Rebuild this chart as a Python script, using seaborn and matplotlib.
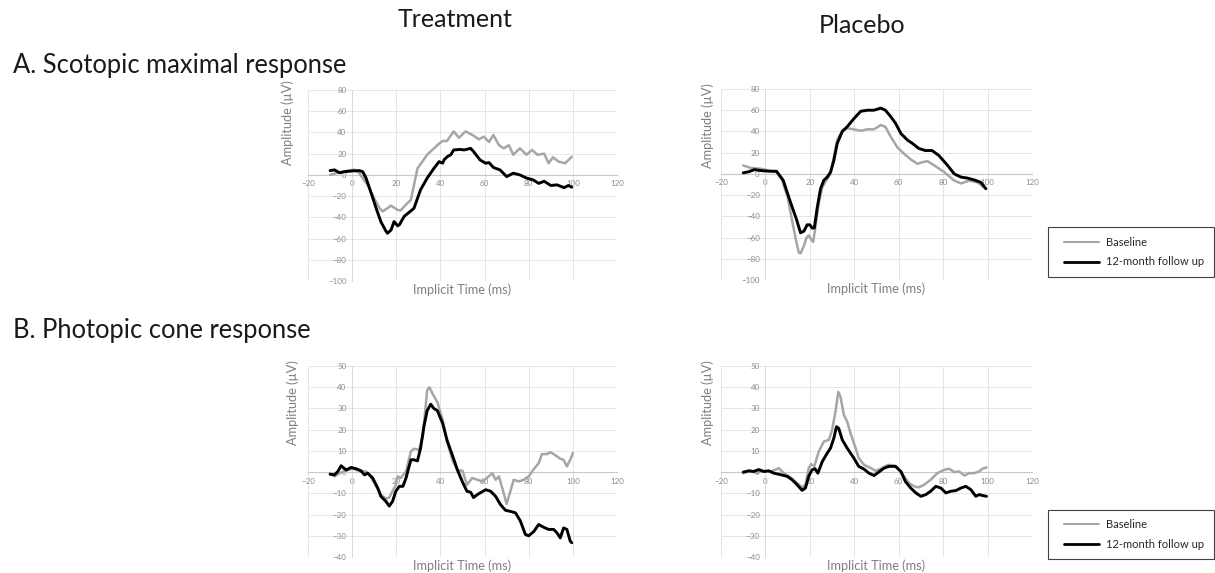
import pandas as pd
import numpy as np
import seaborn as sns
import matplotlib.pyplot as plt
from matplotlib.patches import Rectangle
from matplotlib.lines import Line2D

# Scotopic maximal response - Treatment
sco_trt_base_x = [-10, -6.5, -2, 1, 3.3, 4.8, 7, 10, 12.3, 13.8, 17.6, 20.6, 22, 24.4, 26.6, 27.4, 29.6,
                  34, 38.6, 41, 43, 46, 48.4, 51.4, 55, 57.4, 59.7, 62, 64, 66.5, 68.7, 71, 73, 76, 79,
                  81.5, 84, 87, 89, 91, 93.5, 96.5, 99.5]
sco_trt_base_y = [0, 2, 4, 5, 1.5, -3, -9.4, -22, -31, -34.5, -29, -33, -33.5, -28, -23.5, -15.7, 6,
                  19, 28, 32, 32, 41, 35, 41, 37, 33.5, 36, 31, 37.6, 28, 25, 28, 19, 25, 19,
                  23.5, 19, 20, 11, 16.6, 12.5, 11, 17]
sco_trt_fu_x = [-10, -8, -5.7, -3.5, 0.3, 3.3, 4.8, 6.3, 8.6, 10.8, 13, 15.3, 16, 17.6, 19, 20.6, 21.4,
                23.6, 26.6, 28, 31, 34, 37, 39.4, 41, 41.6, 43, 44.7, 46, 49, 50.7, 53.7, 55, 58,
                60.5, 62, 64, 67, 70, 73, 76, 79, 82, 84.5, 87, 90, 92.8, 96, 98, 99.5]
sco_trt_fu_y = [4, 4.7, 2, 3, 3.8, 4, 3, -3, -17, -31, -44, -53, -55, -52, -44, -48, -47,
                -39, -34, -31.5, -14, -3, 6, 12.5, 11, 14, 17, 19, 23.5, 24, 23.5, 25, 22, 14,
                11, 11.6, 7, 4.7, -1.6, 1.6, 0, -3, -4.7, -8, -6, -10, -9.4, -12, -10, -11.6]

# Scotopic maximal response - Placebo
sco_pla_base_x = [-10, -6.8, -2, 2, 5, 7.5, 10, 12, 13.5, 15, 15.8, 17.3, 18.5, 19.5, 21, 21.5, 22.5,
                  24, 25.6, 27.8, 29.3, 30.8, 32.3, 34.6, 36.8, 39.8, 42.9, 45.9, 48.9, 51.9, 54,
                  56.4, 59.4, 62.4, 65.4, 68.4, 70.7, 73, 76, 80.5, 85, 88, 91.7, 95.5, 98.5, 99.5]
sco_pla_base_y = [8, 5.7, 4.8, 3, 1.6, -6, -22, -44, -60, -74, -75, -68, -60, -58, -63, -64, -50,
                  -28, -12.6, -4.7, 0, 16, 31.7, 41, 43, 42, 40.6, 42, 42, 46, 44.4,
                  35, 25, 19, 13.7, 9.5, 11, 12, 8, 1.6, -6.3, -9, -6.3, -8, -12.7, -14]
sco_pla_fu_x = [-10, -7.5, -5, -1.5, 2, 5, 8, 11, 14, 15.8, 17.3, 18.8, 20, 21, 22, 23.3, 24.8, 26.3,
                27.8, 29.3, 30.8, 32.3, 34.6, 36.8, 39.8, 42.9, 45.9, 48.9, 51.9, 54, 56.4, 58.6,
                61, 64, 66, 69, 72, 75, 78, 82, 85, 88, 91, 94, 97, 99.2]
sco_pla_fu_y = [1, 2, 4, 3, 2.5, 2.5, -6, -25, -43, -55.5, -54, -48, -48, -51, -51, -32, -14, -6,
                -3, 1.6, 12.7, 28.6, 40, 44.4, 52, 59, 60, 60, 62, 60, 54, 47.6,
                38, 31.7, 29, 24, 22, 22, 17.5, 8, 0, -3, -4, -5.7, -8, -14]

# Photopic cone response - Treatment
pho_trt_base_x = [-10, -8, -5.7, -2, 0.3, 3.3, 6.3, 7.8, 10, 13, 15.3, 16.8, 18.3, 19.8, 20.6, 22,
                  24.4, 26.6, 28, 30.4, 32, 34, 35, 36.4, 38.6, 41, 43, 45.4, 47.7, 50, 52, 54.4,
                  56.7, 59, 61, 63.5, 65, 66.5, 68.4, 70, 71.7, 73.2, 75.5, 77.7, 80, 82, 84.5, 86,
                  88.3, 89.8, 92, 94.3, 95.8, 97.3, 98.8, 100]
pho_trt_base_y = [-0.5, -2, -0.5, 1, 1.6, 0.6, 0.3, -1, -5, -10.6, -12.5, -12, -9, -6, -2, -2.8,
                  0.3, 9.7, 11, 10.5, 16.7, 38.6, 40, 37, 33, 24.6, 14.4, 5.8, 1, 0.6, -6, -2.8,
                  -3.6, -4.4, -2.8, -0.5, -3.6, -2, -9, -15, -9, -3.6, -4.4, -3.6, -2, 1, 4.2, 8.5,
                  8.5, 9.4, 8, 6.3, 5.8, 2.7, 5.8, 9]
pho_trt_fu_x = [-10, -8, -6.5, -5, -2.7, -0.5, 1.8, 4, 5.6, 7, 9.3, 11.6, 13, 15.3, 16.8, 18.3, 19.8,
                21.4, 23, 24.4, 26.6, 28, 29.6, 31, 32.6, 34, 35.6, 37, 38.6, 41, 43, 45.4, 47.7,
                50, 52, 53.7, 55, 56.7, 58, 60.5, 62.7, 65, 67.2, 69.5, 71.7, 74, 76.2, 78.5, 80,
                82.3, 84.5, 86.8, 89, 91.3, 92.8, 94.3, 95.8, 97.3, 98.8, 99.5]
pho_trt_fu_y = [-1, -1.3, 0.3, 3, 1, 2.2, 1.6, 0.6, -1.3, -0.5, -2.8, -7.5, -11.4, -13.8, -16, -13.8, -9,
                -6.7, -6.7, -2.8, 5.8, 5.8, 5.3, 11.3, 22, 29, 32, 30, 29, 23, 15, 8, 1,
                -4.7, -9, -9.5, -12, -10.6, -9.8, -8.3, -9, -11.4, -15.3, -18, -18.5, -19.2, -23, -29.4, -30,
                -28, -24.7, -26, -27, -27, -28.6, -31, -26.3, -27, -32.5, -33.3]

# Photopic cone response - Placebo
pho_pla_base_x = [-10, -6.8, -3.8, -1.5, 2.3, 4.5, 6, 8.3, 11.3, 14.3, 16.5, 18, 19.5, 20.6, 22, 24,
                  26.3, 28.6, 30, 31.6, 32.8, 33.8, 35.3, 36.8, 38.3, 40.6, 42, 44.4, 47.4, 49.6,
                  52.6, 55, 58, 60, 62.4, 64.7, 67, 69, 71.4, 74.4, 77.4, 80.5, 82.7, 85, 87.2,
                  89.5, 91.7, 94, 96.2, 97.7, 99.5]
pho_pla_base_y = [-0.5, 0.6, -0.5, 0.6, 0.3, 1.1, 1.9, -0.5, -2.5, -5.2, -7.2, -6, 1.9, 3.8, 2.7, 9.7,
                  14.4, 15.2, 19.8, 29, 37.8, 35.5, 27, 23.8, 18.3, 11.3, 6.6, 3.4, 1.9, 0.6,
                  1.9, 3.4, 3.1, 1.1, -2, -5.2, -6.7, -7.2, -6, -3.6, -0.5, 1.1, 1.6, 0, 0.3,
                  -1.6, -0.5, -0.5, 0.3, 1.6, 2.2]
pho_pla_fu_x = [-10, -7.5, -5.3, -3, -0.8, 1.5, 3.8, 6.8, 9.8, 12, 14.3, 16.5, 18, 19.5, 21, 22.3,
                23.6, 25.6, 27.8, 29.3, 30.8, 32, 33, 34.6, 36.8, 39.8, 42, 44.4, 46.6, 48.9, 51,
                53.4, 55.6, 58.6, 61, 63, 65.4, 67.7, 70, 72.2, 74.4, 76.7, 79, 81.2, 83.5, 85.7,
                88, 90.2, 92.5, 94.7, 96.2, 97.7, 99.5]
pho_pla_fu_y = [0, 0.6, 0.3, 1.2, 0.3, 0.6, -0.5, -1.2, -2, -3.6, -6, -8.6, -7.5, -2, 1.1, 1.6,
                -0.5, 5, 8.9, 11.3, 16, 21.4, 20.6, 15.2, 11.3, 6.6, 2.7, 1.4, -0.5, -1.6, 0,
                1.9, 2.7, 2.7, 0.3, -4.4, -7.5, -9.8, -11.4, -10.6, -9, -6.7, -7.5, -9.8, -9, -8.7,
                -7.5, -6.7, -8.3, -11.4, -10.6, -11, -11.4]

x_ticks = [-20, 0, 20, 40, 60, 80, 100, 120]
sco_y_ticks = [-100, -80, -60, -40, -20, 0, 20, 40, 60, 80]
pho_y_ticks = [-40, -30, -20, -10, 0, 10, 20, 30, 40, 50]

series_labels = ['Baseline', '12-month follow up']
col_titles = ['Treatment', 'Placebo']
row_titles = ['A. Scotopic maximal response', 'B. Photopic cone response']

sns.set_theme(style='white')
plt.rcParams['font.family'] = ['Lato', 'DejaVu Sans']

W, H = 1215, 573
fig = plt.figure(figsize=(W / 100, H / 100), dpi=100)


def px_axes(left, right, top, bottom):
    return fig.add_axes([left / W, 1 - bottom / H, (right - left) / W, (bottom - top) / H])


panels = [
    (px_axes(308, 617, 90, 281), sco_trt_base_x, sco_trt_base_y, sco_trt_fu_x, sco_trt_fu_y, sco_y_ticks, (-0.045, 0.83)),
    (px_axes(721, 1032, 89, 280), sco_pla_base_x, sco_pla_base_y, sco_pla_fu_x, sco_pla_fu_y, sco_y_ticks, (-0.022, 0.81)),
    (px_axes(308, 617, 366, 557), pho_trt_base_x, pho_trt_base_y, pho_trt_fu_x, pho_trt_fu_y, pho_y_ticks, (-0.03, 0.81)),
    (px_axes(721, 1032, 366, 557), pho_pla_base_x, pho_pla_base_y, pho_pla_fu_x, pho_pla_fu_y, pho_y_ticks, (-0.022, 0.81)),
]

for ax, bx, by, fx, fy, yt, ylab_pos in panels:
    ax.set_axisbelow(True)
    sns.lineplot(x=bx, y=by, ax=ax, color='#a6a6a6', linewidth=1.8, sort=False, zorder=3,
                 solid_joinstyle='round', solid_capstyle='round')
    sns.lineplot(x=fx, y=fy, ax=ax, color='black', linewidth=2.1, sort=False, zorder=4,
                 solid_joinstyle='round', solid_capstyle='round')
    if ax.get_legend() is not None:
        ax.get_legend().remove()

    ax.set_xlim(x_ticks[0], x_ticks[-1])
    ax.set_ylim(yt[0], yt[-1])
    ax.set_xticks(x_ticks)
    ax.set_yticks(yt)
    ax.grid(True, color='#e6e6e6', linewidth=0.7)

    ax.spines['top'].set_visible(False)
    ax.spines['right'].set_visible(False)
    ax.spines['left'].set_position(('data', 0))
    ax.spines['bottom'].set_position(('data', 0))
    ax.spines['left'].set_color('#d9d9d9')
    ax.spines['bottom'].set_color('#c8c8c8')
    ax.spines['left'].set_linewidth(0.7)
    ax.spines['bottom'].set_linewidth(0.8)
    ax.tick_params(length=0, labelsize=5.8, labelcolor='#8c8c8c', pad=4)

    ax.set_xlabel('Implicit Time (ms)', fontsize=9.2, color='#7f7f7f', va='center')
    ax.xaxis.set_label_coords(0.5, -0.047)
    ax.set_ylabel('Amplitude (µV)', fontsize=9.2, color='#7f7f7f')
    ax.yaxis.set_label_coords(*ylab_pos)

# titles
fig.text(398 / W, 1 - 27 / H, col_titles[0], fontsize=18, color='#1a1a1a', va='baseline')
fig.text(862 / W, 1 - 33 / H, col_titles[1], fontsize=18, color='#1a1a1a', va='baseline', ha='center')
fig.text(13 / W, 1 - 73 / H, row_titles[0], fontsize=18.4, color='#1a1a1a', va='baseline')
fig.text(13 / W, 1 - 338 / H, row_titles[1], fontsize=18.4, color='#1a1a1a', va='baseline')

# legends
handles = [Line2D([], [], color='#a6a6a6', linewidth=1.5), Line2D([], [], color='black', linewidth=2.0)]
for top, bottom in [(227, 277), (510, 559)]:
    fig.patches.append(Rectangle((1048 / W, 1 - bottom / H), 166 / W, (bottom - top) / H,
                                 transform=fig.transFigure, fill=False, edgecolor='#404040', linewidth=0.8))
    fig.legend(handles, series_labels, loc='center left', frameon=False, fontsize=8,
               bbox_to_anchor=(1058 / W, 1 - (top + bottom) / 2 / H),
               handlelength=3.2, handletextpad=0.6, labelspacing=0.8, borderpad=0)

fig.savefig('out.png', dpi=100, facecolor='white')
